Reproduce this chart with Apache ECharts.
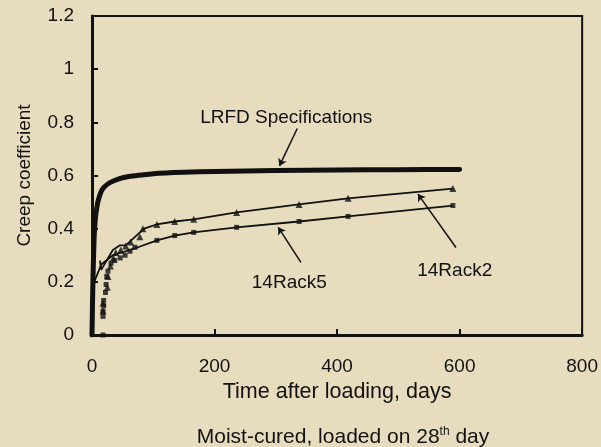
<!DOCTYPE html>
<html>
<head>
<meta charset="utf-8">
<script src="https://cdn.jsdelivr.net/npm/echarts@6/dist/echarts.min.js"></script>
<style>
  html, body { margin: 0; padding: 0; background: #E7DCBE; }
  #chart { width: 601px; height: 447px; }
</style>
</head>
<body>
<div id="chart"></div>
<script>
// LRFD Specifications curve (days, creep coefficient)
const lrfdDays = [0, 1, 2, 3, 4, 6, 8, 10, 15, 20, 30, 45, 60, 80, 100, 150, 200, 300, 400, 500, 600]
const lrfdValues = [0, 0.14, 0.25, 0.33, 0.39, 0.45, 0.48, 0.505, 0.54, 0.557, 0.574, 0.588, 0.596, 0.602, 0.607, 0.612, 0.615, 0.619, 0.621, 0.622, 0.623]

// 14Rack2 connecting line
const rack2LineDays = [13, 15, 34, 45, 55, 85, 106, 135, 166, 236, 338, 418, 589]
const rack2LineValues = [0.28, 0.245, 0.32, 0.337, 0.337, 0.4, 0.416, 0.427, 0.435, 0.461, 0.491, 0.514, 0.551]

// 14Rack2 readings (triangles)
const rack2ReadDays = [18, 18, 25, 26, 30, 35, 39, 47, 55, 63, 78, 83, 106, 135, 166, 236, 338, 418, 589]
const rack2ReadValues = [0.09, 0.12, 0.18, 0.22, 0.26, 0.29, 0.31, 0.32, 0.335, 0.35, 0.37, 0.4, 0.416, 0.427, 0.435, 0.461, 0.491, 0.514, 0.551]

// 14Rack5 connecting line
const rack5LineDays = [2, 15, 34, 75, 106, 135, 166, 236, 338, 418, 589]
const rack5LineValues = [0.19, 0.265, 0.3, 0.33, 0.356, 0.374, 0.386, 0.405, 0.427, 0.446, 0.487]

// 14Rack5 readings (squares)
const rack5ReadDays = [18, 18, 18, 19, 19, 22, 23, 24, 26, 31, 37, 46, 54, 62, 70, 106, 135, 166, 236, 338, 418, 589]
const rack5ReadValues = [0, 0.07, 0.09, 0.11, 0.13, 0.16, 0.19, 0.22, 0.24, 0.27, 0.28, 0.29, 0.3, 0.315, 0.33, 0.356, 0.374, 0.386, 0.405, 0.427, 0.446, 0.487]

const xTicks = { min: 0, max: 800, interval: 200 }
const yTicks = { min: 0, max: 1.2, interval: 0.2 }

const zip = (xs, ys) => xs.map((x, i) => [x, ys[i]])

const FONT = 'Liberation Sans'
const INK = '#111'

const chart = echarts.init(document.getElementById('chart'))

chart.setOption({
  backgroundColor: '#E7DCBE',
  animation: false,
  textStyle: { fontFamily: FONT, color: INK },
  title: {
    text: 'Moist-cured, loaded on 28{sup|th} day',
    left: 338,
    textAlign: 'center',
    top: 421,
    textStyle: {
      fontFamily: FONT, fontSize: 21, fontWeight: 'normal', color: INK,
      rich: { sup: { fontFamily: FONT, fontSize: 12, color: INK, verticalAlign: 'top', padding: [0, 0, 10, 0] } }
    }
  },
  grid: {
    left: 92, right: 17, top: 16, bottom: 112,
    show: true, borderColor: INK, borderWidth: 2, backgroundColor: 'transparent'
  },
  xAxis: {
    type: 'value', ...xTicks,
    name: 'Time after loading, days',
    nameLocation: 'middle', nameGap: 44,
    nameTextStyle: { fontSize: 21.5, color: INK, fontFamily: FONT },
    axisLine: { lineStyle: { color: INK, width: 3 } },
    axisTick: { inside: true, length: 6, lineStyle: { color: INK, width: 2 } },
    axisLabel: { fontSize: 19, color: INK, margin: 22, fontFamily: FONT },
    splitLine: { show: false }
  },
  yAxis: {
    type: 'value', ...yTicks,
    name: 'Creep coefficient',
    nameLocation: 'middle', nameGap: 58,
    nameTextStyle: { fontSize: 19, color: INK, fontFamily: FONT },
    axisLine: { lineStyle: { color: INK, width: 3 } },
    axisTick: { inside: true, length: 6, lineStyle: { color: INK, width: 2 } },
    axisLabel: { fontSize: 19, color: INK, margin: 18, fontFamily: FONT },
    splitLine: { show: false }
  },
  series: [
    {
      name: 'LRFD Specifications',
      type: 'line',
      data: zip(lrfdDays, lrfdValues),
      smooth: 0.3,
      showSymbol: false,
      lineStyle: { color: INK, width: 5, cap: 'round', join: 'round' },
      markLine: {
        silent: true,
        symbol: ['none', 'arrow'],
        symbolSize: 7,
        label: { show: false },
        lineStyle: { color: INK, width: 1.5, type: 'solid' },
        data: [
          [{ coord: [335, 0.777] }, { coord: [306, 0.636] }],
          [{ coord: [341, 0.273] }, { coord: [304, 0.405] }],
          [{ coord: [594, 0.329] }, { coord: [532, 0.53] }]
        ]
      },
      markPoint: {
        silent: true,
        symbol: 'circle',
        symbolSize: 1,
        itemStyle: { color: 'transparent' },
        label: { show: true, position: 'inside', color: INK, fontSize: 19, fontFamily: FONT, formatter: p => p.name },
        data: [
          { name: 'LRFD Specifications', coord: [317, 0.818] },
          { name: '14Rack5', coord: [322, 0.198] },
          { name: '14Rack2', coord: [592, 0.243] }
        ]
      }
    },
    {
      name: '14Rack2 line',
      type: 'line',
      data: zip(rack2LineDays, rack2LineValues),
      showSymbol: false,
      lineStyle: { color: INK, width: 1.8 }
    },
    {
      name: '14Rack5 line',
      type: 'line',
      data: zip(rack5LineDays, rack5LineValues),
      showSymbol: false,
      lineStyle: { color: INK, width: 1.8 }
    },
    {
      name: '14Rack2',
      type: 'scatter',
      data: zip(rack2ReadDays, rack2ReadValues),
      symbol: 'triangle',
      symbolSize: 7,
      itemStyle: { color: INK }
    },
    {
      name: '14Rack5',
      type: 'scatter',
      data: zip(rack5ReadDays, rack5ReadValues),
      symbol: 'rect',
      symbolSize: 5,
      itemStyle: { color: INK }
    }
  ]
})
</script>
</body>
</html>
